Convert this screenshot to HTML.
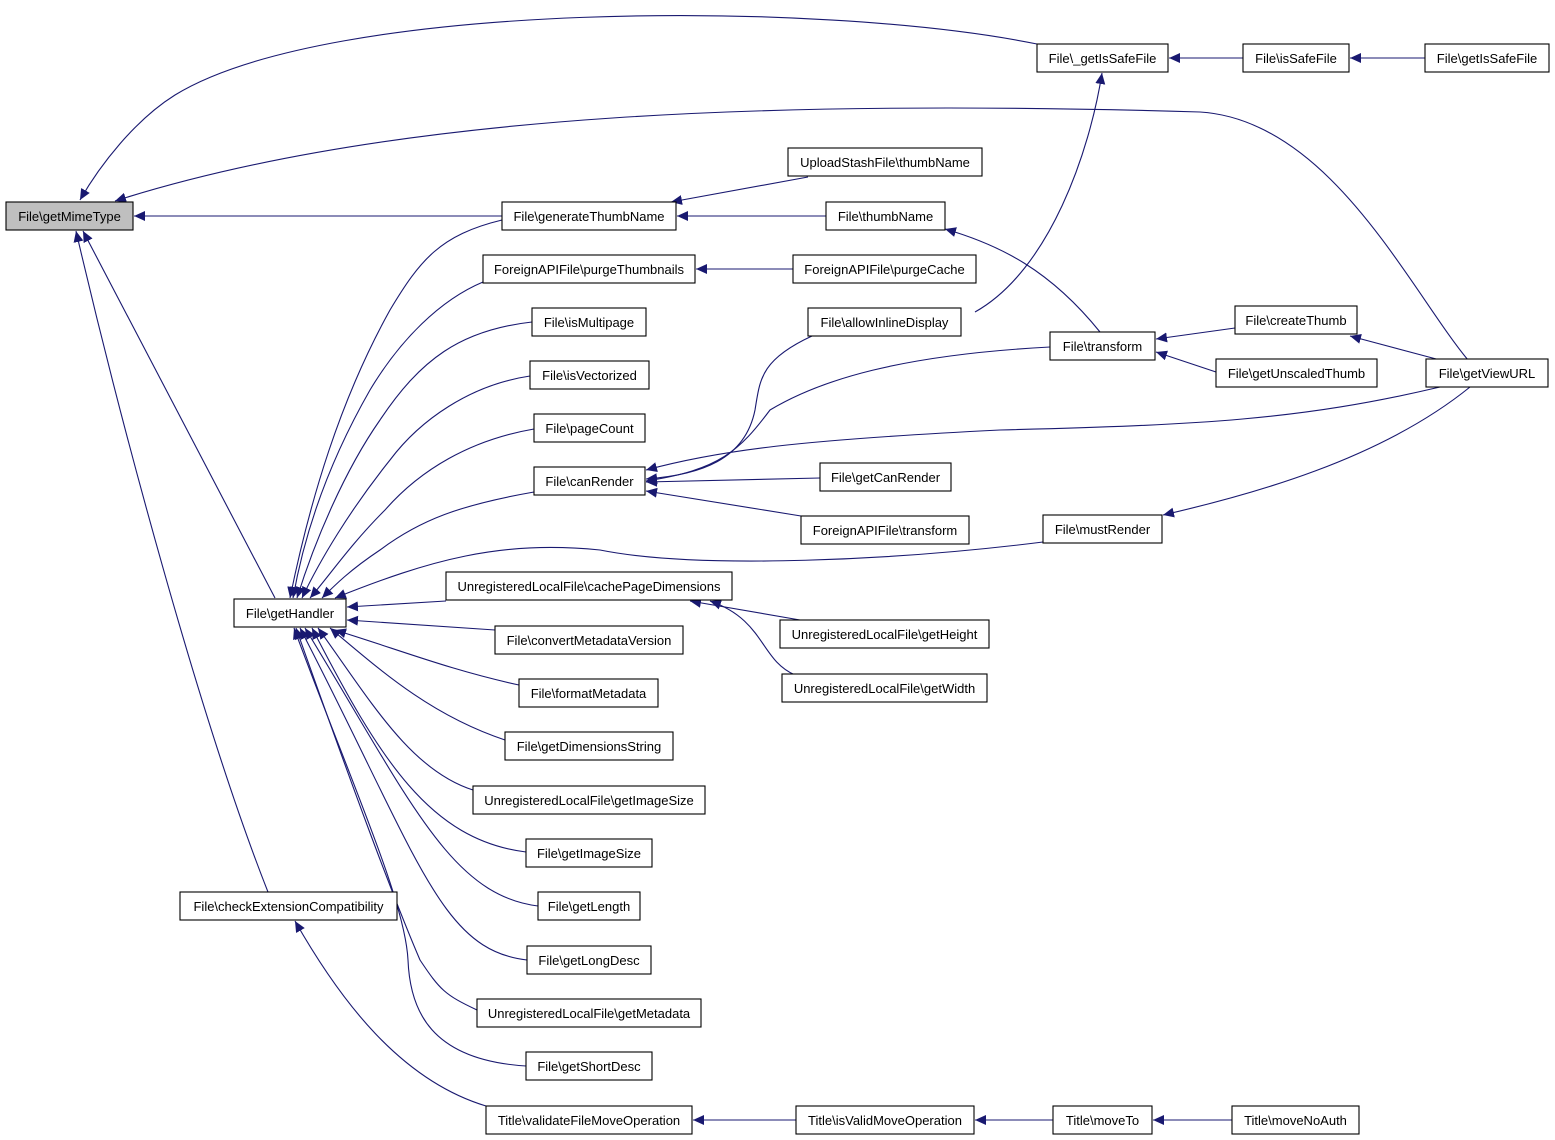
<!DOCTYPE html>
<html><head><meta charset="utf-8"><style>
html,body{margin:0;padding:0;background:#fff;}
svg{display:block}
text{font-family:"Liberation Sans",sans-serif;font-size:13px;fill:#000}
</style></head><body>
<svg width="1555" height="1140" viewBox="0 0 1555 1140" xmlns="http://www.w3.org/2000/svg">
<defs>
<marker id="a" markerUnits="userSpaceOnUse" markerWidth="12" markerHeight="10" refX="11" refY="5" orient="auto">
<path d="M0,0 L11,5 L0,10 Z" fill="#191970"/>
</marker>
</defs>
<g fill="none" stroke="#191970" stroke-width="1.1" marker-end="url(#a)">
<!-- to getMimeType -->
<path d="M1037,44 C820,0 330,0 175,95 C135,120 100,165 80,200"/>
<path d="M1468,360 C1410,290 1330,120 1200,112 C800,100 400,110 115,201"/>
<path d="M502,216 L134,216"/>
<path d="M275,598 L83,231"/>
<path d="M268,892 C200,720 120,420 76,231"/>
<!-- right chain -->
<path d="M1243,58 L1169,58"/>
<path d="M1425,58 L1350,58"/>
<path d="M808,177 L671,202"/>
<path d="M826,216 L677,216"/>
<path d="M793,269 L696,269"/>
<path d="M975,312 C1050,270 1090,150 1102,73"/>
<path d="M1100,332 C1050,270 1000,245 945,229"/>
<path d="M1235,328 L1156,339"/>
<path d="M1216,372 L1156,352"/>
<path d="M1440,360 L1350,336"/>
<path d="M1470,387 C1380,460 1250,495 1163,515"/>
<!-- to canRender -->
<path d="M812,336 C760,360 760,380 755,410 C745,460 700,475 646,479"/>
<path d="M1050,347 C900,355 820,380 770,410 C740,450 720,470 646,481"/>
<path d="M1440,387 C1300,420 1200,425 1000,430 C800,440 720,450 646,470"/>
<path d="M820,478 L646,482"/>
<path d="M801,516 L646,491"/>
<!-- to getHandler from above -->
<path d="M502,220 C440,235 420,260 390,310 C340,400 310,500 290,598"/>
<path d="M483,282 C440,300 400,340 370,390 C330,460 305,530 293,598"/>
<path d="M532,322 C460,330 420,360 380,420 C345,470 315,540 297,598"/>
<path d="M530,376 C470,385 420,420 390,460 C350,510 320,560 302,598"/>
<path d="M534,429 C470,440 420,470 385,510 C350,545 330,575 310,598"/>
<path d="M534,492 C460,505 420,520 380,550 C350,570 335,585 322,598"/>
<path d="M1043,542 C900,560 700,570 600,550 C500,540 430,560 335,598"/>
<path d="M446,601 L347,607"/>
<path d="M495,630 L347,620"/>
<path d="M519,685 C450,670 400,650 335,630"/>
<path d="M505,740 C430,715 380,670 330,628"/>
<path d="M473,790 C410,770 370,700 318,628"/>
<path d="M526,852 C430,840 380,760 312,628"/>
<path d="M538,906 C450,895 410,800 305,628"/>
<path d="M527,960 C440,950 420,860 300,628"/>
<path d="M477,1010 C445,995 440,990 420,960 C390,890 350,780 296,628"/>
<path d="M526,1066 C430,1060 410,1010 408,960 C405,900 350,780 294,628"/>
<!-- bottom -->
<path d="M486,1106 C400,1080 340,1000 295,921"/>
<path d="M796,1120 L693,1120"/>
<path d="M1053,1120 L975,1120"/>
<path d="M1232,1120 L1153,1120"/>
<path d="M800,620 L690,601"/>
<path d="M795,675 C760,660 765,620 710,601"/>
</g>
<g stroke="#000" stroke-width="1.1" fill="#fff">
<rect x="6" y="202" width="127" height="28" fill="#bfbfbf"/>
<rect x="1037" y="44" width="131" height="28"/>
<rect x="1243" y="44" width="106" height="28"/>
<rect x="1425" y="44" width="124" height="28"/>
<rect x="788" y="148" width="194" height="28"/>
<rect x="502" y="202" width="174" height="28"/>
<rect x="826" y="202" width="119" height="28"/>
<rect x="483" y="255" width="212" height="28"/>
<rect x="793" y="255" width="183" height="28"/>
<rect x="532" y="308" width="114" height="28"/>
<rect x="808" y="308" width="153" height="28"/>
<rect x="1050" y="332" width="105" height="28"/>
<rect x="1235" y="306" width="122" height="28"/>
<rect x="1216" y="359" width="161" height="28"/>
<rect x="1426" y="359" width="122" height="28"/>
<rect x="530" y="361" width="119" height="28"/>
<rect x="534" y="414" width="111" height="28"/>
<rect x="534" y="467" width="111" height="28"/>
<rect x="820" y="463" width="131" height="28"/>
<rect x="801" y="516" width="168" height="28"/>
<rect x="1043" y="515" width="119" height="28"/>
<rect x="446" y="572" width="286" height="28"/>
<rect x="234" y="599" width="112" height="28"/>
<rect x="495" y="626" width="188" height="28"/>
<rect x="780" y="620" width="209" height="28"/>
<rect x="782" y="674" width="205" height="28"/>
<rect x="519" y="679" width="139" height="28"/>
<rect x="505" y="732" width="168" height="28"/>
<rect x="473" y="786" width="232" height="28"/>
<rect x="526" y="839" width="126" height="28"/>
<rect x="538" y="892" width="102" height="28"/>
<rect x="180" y="892" width="217" height="28"/>
<rect x="527" y="946" width="124" height="28"/>
<rect x="477" y="999" width="224" height="28"/>
<rect x="526" y="1052" width="126" height="28"/>
<rect x="486" y="1106" width="206" height="28"/>
<rect x="796" y="1106" width="178" height="28"/>
<rect x="1053" y="1106" width="99" height="28"/>
<rect x="1232" y="1106" width="127" height="28"/>
</g>
<g text-anchor="middle">
<text x="69.5" y="221">File\getMimeType</text>
<text x="1102.5" y="63">File\_getIsSafeFile</text>
<text x="1296" y="63">File\isSafeFile</text>
<text x="1487" y="63">File\getIsSafeFile</text>
<text x="885" y="167">UploadStashFile\thumbName</text>
<text x="589" y="221">File\generateThumbName</text>
<text x="885.5" y="221">File\thumbName</text>
<text x="589" y="274">ForeignAPIFile\purgeThumbnails</text>
<text x="884.5" y="274">ForeignAPIFile\purgeCache</text>
<text x="589" y="327">File\isMultipage</text>
<text x="884.5" y="327">File\allowInlineDisplay</text>
<text x="1102.5" y="351">File\transform</text>
<text x="1296" y="325">File\createThumb</text>
<text x="1296.5" y="378">File\getUnscaledThumb</text>
<text x="1487" y="378">File\getViewURL</text>
<text x="589.5" y="380">File\isVectorized</text>
<text x="589.5" y="433">File\pageCount</text>
<text x="589.5" y="486">File\canRender</text>
<text x="885.5" y="482">File\getCanRender</text>
<text x="885" y="535">ForeignAPIFile\transform</text>
<text x="1102.5" y="534">File\mustRender</text>
<text x="589" y="591">UnregisteredLocalFile\cachePageDimensions</text>
<text x="290" y="618">File\getHandler</text>
<text x="589" y="645">File\convertMetadataVersion</text>
<text x="884.5" y="639">UnregisteredLocalFile\getHeight</text>
<text x="884.5" y="693">UnregisteredLocalFile\getWidth</text>
<text x="588.5" y="698">File\formatMetadata</text>
<text x="589" y="751">File\getDimensionsString</text>
<text x="589" y="805">UnregisteredLocalFile\getImageSize</text>
<text x="589" y="858">File\getImageSize</text>
<text x="589" y="911">File\getLength</text>
<text x="288.5" y="911">File\checkExtensionCompatibility</text>
<text x="589" y="965">File\getLongDesc</text>
<text x="589" y="1018">UnregisteredLocalFile\getMetadata</text>
<text x="589" y="1071">File\getShortDesc</text>
<text x="589" y="1125">Title\validateFileMoveOperation</text>
<text x="885" y="1125">Title\isValidMoveOperation</text>
<text x="1102.5" y="1125">Title\moveTo</text>
<text x="1295.5" y="1125">Title\moveNoAuth</text>
</g>
</svg>
</body></html>
